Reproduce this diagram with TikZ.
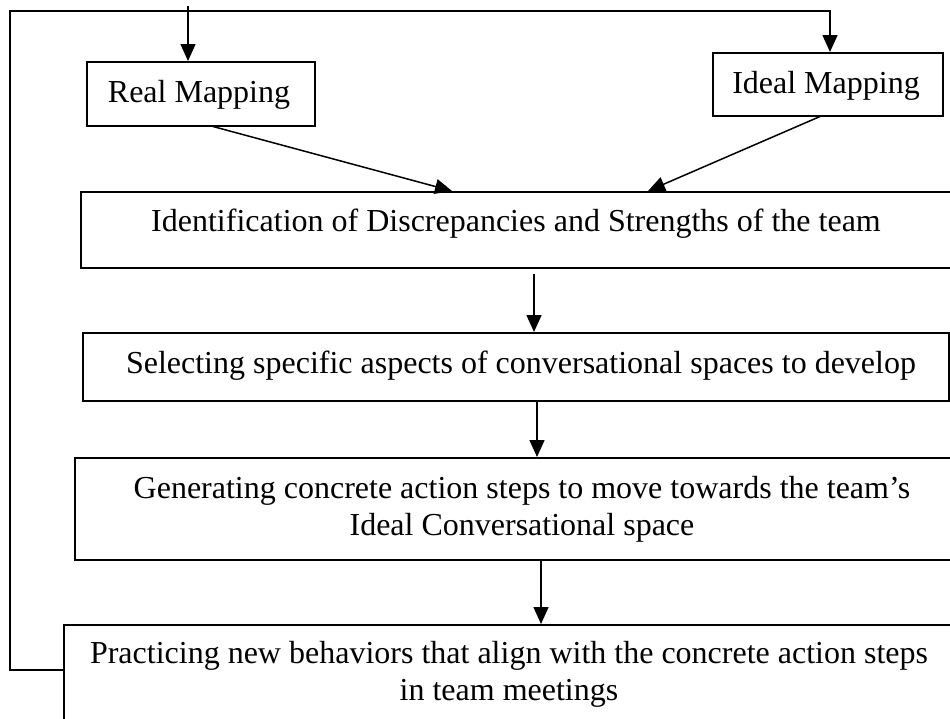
\documentclass[tikz,border=0pt]{standalone}
\usepackage{fontspec}
\setmainfont{Liberation Serif}
\usetikzlibrary{arrows.meta}
\begin{document}
\begin{tikzpicture}[x=1pt,y=-1pt,
  box/.style={draw, line width=1.5pt, inner sep=0pt, anchor=north west},
  lbl/.style={font=\fontsize{32}{37}\selectfont, anchor=base, align=center, inner sep=0pt},
  wire/.style={line width=1.5pt},
  arr/.style={wire, -{Triangle[length=17pt,width=15pt]}}]
\useasboundingbox (0,0) rectangle (950,718);
\clip (0,0) rectangle (950,718);

% boxes
\node[box, minimum width=228pt, minimum height=64pt]  (real)   at (86,61)  {};
\node[box, minimum width=230pt, minimum height=63pt]  (ideal)  at (712,52) {};
\node[box, minimum width=875pt, minimum height=76pt]  (ident)  at (80,191) {};
\node[box, minimum width=866pt, minimum height=68pt]  (select) at (82,332) {};
\node[box, minimum width=880pt, minimum height=102pt] (gen)    at (74,457) {};
\node[box, minimum width=895pt, minimum height=120pt] (prac)   at (63,624) {};

% texts (base anchor sits on the last line)
\node[lbl] (realT)   at (199,102) {Real Mapping};
\node[lbl] (idealT)  at (826,93)  {Ideal Mapping};
\node[lbl] (identT)  at (516,231) {Identification of Discrepancies and Strengths of the team};
\node[lbl] (selectT) at (521,373) {Selecting specific aspects of conversational spaces to develop};
\node[lbl] (genT)    at (522,535) {Generating concrete action steps to move towards the team’s\\Ideal Conversational space};
\node[lbl] (pracT)   at (509,700) {Practicing new behaviors that align with the concrete action steps\\in team meetings};

% feedback loop and entry arrows
\coordinate (rt)   at (188,6);
\coordinate (lb)   at (10,670);
\coordinate (lt)   at (10,11);
\coordinate (rtop) at (830,11);
\draw[arr] (rt) -- (rt |- real.north);
\draw[arr] (lb -| prac.west) -- (lb) -- (lt) -- (rtop) -- (rtop |- ideal.north);

% mappings into identification
\draw[arr] ([xshift=127pt]real.south west)  -- ([xshift=372pt]ident.north west);
\draw[arr] ([xshift=108pt]ideal.south west) -- ([xshift=568pt]ident.north west);

% vertical chain
\coordinate (a1) at (534,274);
\coordinate (a2) at (537,400);
\coordinate (a3) at (541,559);
\draw[arr] (a1) -- (a1 |- select.north);
\draw[arr] (a2 |- select.south) -- (a2 |- gen.north);
\draw[arr] (a3 |- gen.south) -- (a3 |- prac.north);
\end{tikzpicture}
\end{document}
